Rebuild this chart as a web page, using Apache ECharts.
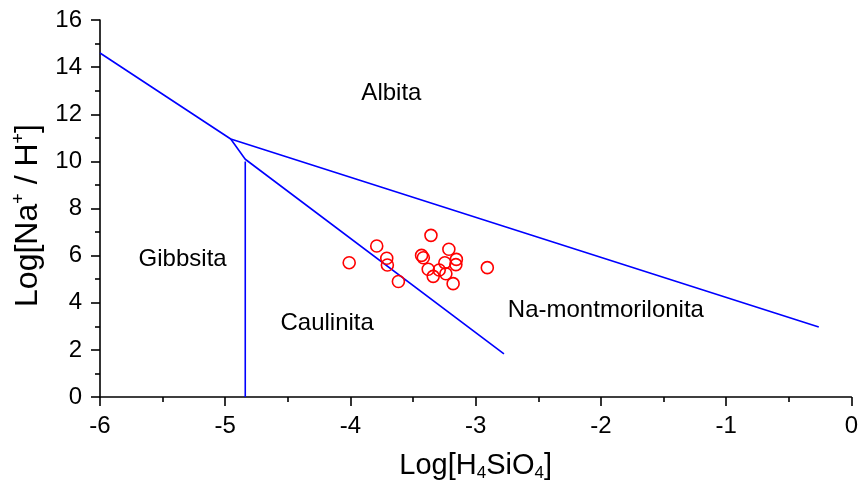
<!DOCTYPE html>
<html><head><meta charset="utf-8">
<script src="https://cdn.jsdelivr.net/npm/echarts@6/dist/echarts.min.js"></script>
<style>html,body{margin:0;padding:0;background:#fff}#c{width:861px;height:491px}</style>
</head><body><div id="c"></div>
<script>
// Sample points: Log[H4SiO4] vs Log[Na+/H+]
const sampleX = [-4.01, -3.79, -3.71, -3.705, -3.617, -3.357, -3.432, -3.418, -3.214, -3.379, -3.339, -3.291, -3.246, -3.154, -3.158, -3.238, -3.18, -2.907];
const sampleY = [5.70, 6.41, 5.89, 5.60, 4.90, 6.86, 6.01, 5.91, 6.27, 5.42, 5.12, 5.39, 5.70, 5.84, 5.62, 5.23, 4.81, 5.49];
// Stability field boundaries
const boundaryAlbita = [[-6, 14.6], [-4.956, 10.95], [-0.26, 2.97]];
const boundaryCaulinita = [[-4.956, 10.95], [-4.84, 10.09], [-2.774, 1.83]];
const boundaryGibbsita = [[-4.84, 10.0], [-4.84, 0]];
// Field names and anchor points (data coordinates)
const fieldNames = ['Albita', 'Gibbsita', 'Caulinita', 'Na-montmorilonita'];
const fieldX = [-3.673, -5.34, -4.186, -1.96];
const fieldY = [12.9, 5.86, 3.14, 3.66];
// Axis ticks
const xTickValues = [-6, -5, -4, -3, -2, -1, 0];
const yTickValues = [0, 2, 4, 6, 8, 10, 12, 14, 16];

const FONT = 'Liberation Sans, Arial, sans-serif';
const chart = echarts.init(document.getElementById('c'), null, {renderer: 'canvas'});
const lineSeries = (d) => ({
  type: 'line', data: d, symbol: 'none', silent: true, animation: false,
  lineStyle: {color: '#0000ff', width: 1.6}, z: 2
});
const axisCommon = {
  type: 'value',
  axisLine: {show: true, onZero: false, lineStyle: {color: '#000', width: 1.6}},
  axisTick: {show: true, inside: false, length: 9, lineStyle: {color: '#000', width: 1.6}},
  minorTick: {show: true, splitNumber: 2, length: 5, lineStyle: {color: '#000', width: 1.6}},
  splitLine: {show: false},
  axisLabel: {color: '#000', fontSize: 24, fontFamily: FONT},
  nameLocation: 'middle',
  nameTextStyle: {color: '#000', fontFamily: FONT}
};
chart.setOption({
  animation: false,
  backgroundColor: '#fff',
  grid: {left: 100, right: 6, top: 20, bottom: 94, containLabel: false},
  xAxis: Object.assign({}, axisCommon, {
    min: xTickValues[0], max: xTickValues[xTickValues.length - 1], interval: 1,
    axisLabel: Object.assign({}, axisCommon.axisLabel, {margin: 17, formatter: v => String(v)}),
    name: 'Log[H{sub|4}SiO{sub|4}]', nameGap: 53,
    nameTextStyle: {color: '#000', fontFamily: FONT, fontSize: 29,
      rich: {sub: {fontSize: 17, fontFamily: FONT, color: '#000', padding: [15, 0, 0, 0]}}}
  }),
  yAxis: Object.assign({}, axisCommon, {
    min: yTickValues[0], max: yTickValues[yTickValues.length - 1], interval: 2,
    axisLabel: Object.assign({}, axisCommon.axisLabel, {margin: 18}),
    name: 'Log[Na{sup|+} / H{sup|+}]', nameGap: 54, nameRotate: 90,
    nameTextStyle: {color: '#000', fontFamily: FONT, fontSize: 32, padding: [0, 14, 0, 0],
      rich: {sup: {fontSize: 18, fontFamily: FONT, color: '#000', padding: [0, 0, 18, 0]}}}
  }),
  series: [
    lineSeries(boundaryAlbita),
    lineSeries(boundaryCaulinita),
    lineSeries(boundaryGibbsita),
    {
      type: 'scatter', silent: true, z: 3,
      data: sampleX.map((x, i) => [x, sampleY[i]]),
      symbol: 'circle', symbolSize: 12,
      itemStyle: {color: 'rgba(0,0,0,0)', borderColor: '#ff0000', borderWidth: 1.6, opacity: 1}
    },
    {
      type: 'scatter', silent: true, z: 4, symbolSize: 0,
      itemStyle: {opacity: 1},
      data: fieldNames.map((n, i) => ({name: n, value: [fieldX[i], fieldY[i]]})),
      label: {show: true, position: 'inside', formatter: p => p.name, opacity: 1,
        color: '#000', fontSize: 24, fontFamily: FONT, textBorderWidth: 0}
    }
  ]
});
</script></body></html>
